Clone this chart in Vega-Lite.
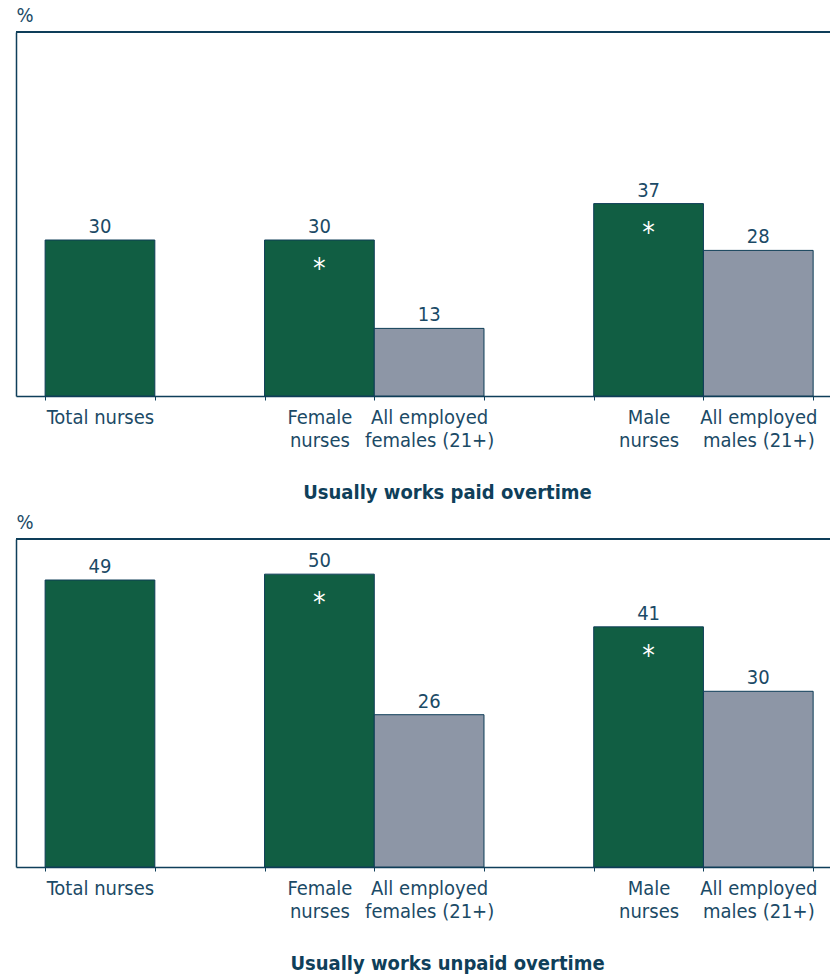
{
  "$schema": "https://vega.github.io/schema/vega-lite/v6.json",
  "padding": {"left": 15, "top": 5, "right": 0, "bottom": 0},
  "background": "white",
  "bounds": "flush",
  "spacing": 143,
  "config": {
    "font": "Liberation Sans Narrow, DejaVu Sans Condensed, sans-serif",
    "view": {"stroke": null}
  },
  "datasets": {
    "overtime": [
      {"panel": "paid", "category": "Total nurses", "group": "Nurses", "value": 30, "significant": false},
      {"panel": "paid", "category": "Female nurses", "group": "Nurses", "value": 30, "significant": true},
      {"panel": "paid", "category": "All employed females (21+)", "group": "All employed", "value": 13, "significant": false},
      {"panel": "paid", "category": "Male nurses", "group": "Nurses", "value": 37, "significant": true},
      {"panel": "paid", "category": "All employed males (21+)", "group": "All employed", "value": 28, "significant": false},
      {"panel": "unpaid", "category": "Total nurses", "group": "Nurses", "value": 49, "significant": false},
      {"panel": "unpaid", "category": "Female nurses", "group": "Nurses", "value": 50, "significant": true},
      {"panel": "unpaid", "category": "All employed females (21+)", "group": "All employed", "value": 26, "significant": false},
      {"panel": "unpaid", "category": "Male nurses", "group": "Nurses", "value": 41, "significant": true},
      {"panel": "unpaid", "category": "All employed males (21+)", "group": "All employed", "value": 30, "significant": false}
    ]
  },
  "vconcat": [
    {
      "width": 815,
      "height": 364,
      "data": {"name": "overtime"},
      "transform": [{"filter": "datum.panel == 'paid'"}],
      "title": {"text": "Usually works paid overtime", "orient": "bottom", "anchor": "middle", "dx": 24, "offset": 10, "fontSize": 20, "fontWeight": "bold", "color": "#0f3f5a"},
      "layer": [
        {
          "mark": {"type": "bar", "stroke": "#0e3d57", "strokeWidth": 1},
          "encoding": {
            "x": {"field": "category", "type": "nominal", "sort": null,
              "scale": {"domain": ["Total nurses", " ", "Female nurses", "All employed females (21+)", "  ", "Male nurses", "All employed males (21+)"], "paddingInner": 0, "paddingOuter": 0.214, "align": 0.62},
              "axis": {"title": null, "tickBand": "extent", "tickSize": 4, "tickColor": "#0f3f5a", "domainColor": "#0f3f5a", "domainWidth": 1.5, "labelFontSize": 20, "labelColor": "#1b4a66", "labelPadding": 7, "labelLineHeight": 23, "labelAngle": 0, "labelOverlap": false,
                "labelExpr": "indexof(datum.label, 'All employed') == 0 ? ['All employed', substring(datum.label, 13)] : (datum.label == 'Total nurses' ? datum.label : split(datum.label, ' '))"}},
            "y": {"field": "value", "type": "quantitative", "scale": {"domain": [0, 70], "nice": false},
              "axis": {"title": "%", "titleAngle": 0, "titleAlign": "left", "titleBaseline": "alphabetic", "titleX": 0, "titleY": -11, "titleFontSize": 20, "titleFontWeight": "normal", "titleColor": "#1b4a66", "labels": false, "ticks": false, "grid": false, "domainColor": "#0f3f5a", "domainWidth": 1.5}},
            "color": {"field": "group", "type": "nominal", "scale": {"domain": ["Nurses", "All employed"], "range": ["#115e43", "#8d96a6"]}, "legend": null}
          }
        },
        {
          "mark": {"type": "text", "dy": -7, "baseline": "alphabetic", "fontSize": 20, "color": "#1b4a66"},
          "encoding": {
            "x": {"field": "category", "type": "nominal", "sort": null},
            "y": {"field": "value", "type": "quantitative"},
            "text": {"field": "value", "type": "quantitative"}
          }
        },
        {
          "transform": [{"filter": "datum.significant"}],
          "mark": {"type": "text", "text": "*", "dy": 38, "baseline": "alphabetic", "fontSize": 28, "color": "white"},
          "encoding": {
            "x": {"field": "category", "type": "nominal", "sort": null},
            "y": {"field": "value", "type": "quantitative"}
          }
        },
        {
          "mark": {"type": "rule", "color": "#0f3f5a", "strokeWidth": 1.5},
          "encoding": {"y": {"datum": 70}}
        }
      ]
    },
    {
      "width": 815,
      "height": 328,
      "data": {"name": "overtime"},
      "transform": [{"filter": "datum.panel == 'unpaid'"}],
      "title": {"text": "Usually works unpaid overtime", "orient": "bottom", "anchor": "middle", "dx": 24, "offset": 10, "fontSize": 20, "fontWeight": "bold", "color": "#0f3f5a"},
      "layer": [
        {
          "mark": {"type": "bar", "stroke": "#0e3d57", "strokeWidth": 1},
          "encoding": {
            "x": {"field": "category", "type": "nominal", "sort": null,
              "scale": {"domain": ["Total nurses", " ", "Female nurses", "All employed females (21+)", "  ", "Male nurses", "All employed males (21+)"], "paddingInner": 0, "paddingOuter": 0.214, "align": 0.62},
              "axis": {"title": null, "tickBand": "extent", "tickSize": 4, "tickColor": "#0f3f5a", "domainColor": "#0f3f5a", "domainWidth": 1.5, "labelFontSize": 20, "labelColor": "#1b4a66", "labelPadding": 7, "labelLineHeight": 23, "labelAngle": 0, "labelOverlap": false,
                "labelExpr": "indexof(datum.label, 'All employed') == 0 ? ['All employed', substring(datum.label, 13)] : (datum.label == 'Total nurses' ? datum.label : split(datum.label, ' '))"}},
            "y": {"field": "value", "type": "quantitative", "scale": {"domain": [0, 56], "nice": false},
              "axis": {"title": "%", "titleAngle": 0, "titleAlign": "left", "titleBaseline": "alphabetic", "titleX": 0, "titleY": -11, "titleFontSize": 20, "titleFontWeight": "normal", "titleColor": "#1b4a66", "labels": false, "ticks": false, "grid": false, "domainColor": "#0f3f5a", "domainWidth": 1.5}},
            "color": {"field": "group", "type": "nominal", "scale": {"domain": ["Nurses", "All employed"], "range": ["#115e43", "#8d96a6"]}, "legend": null}
          }
        },
        {
          "mark": {"type": "text", "dy": -7, "baseline": "alphabetic", "fontSize": 20, "color": "#1b4a66"},
          "encoding": {
            "x": {"field": "category", "type": "nominal", "sort": null},
            "y": {"field": "value", "type": "quantitative"},
            "text": {"field": "value", "type": "quantitative"}
          }
        },
        {
          "transform": [{"filter": "datum.significant"}],
          "mark": {"type": "text", "text": "*", "dy": 38, "baseline": "alphabetic", "fontSize": 28, "color": "white"},
          "encoding": {
            "x": {"field": "category", "type": "nominal", "sort": null},
            "y": {"field": "value", "type": "quantitative"}
          }
        },
        {
          "mark": {"type": "rule", "color": "#0f3f5a", "strokeWidth": 1.5},
          "encoding": {"y": {"datum": 56}}
        }
      ]
    }
  ]
}
